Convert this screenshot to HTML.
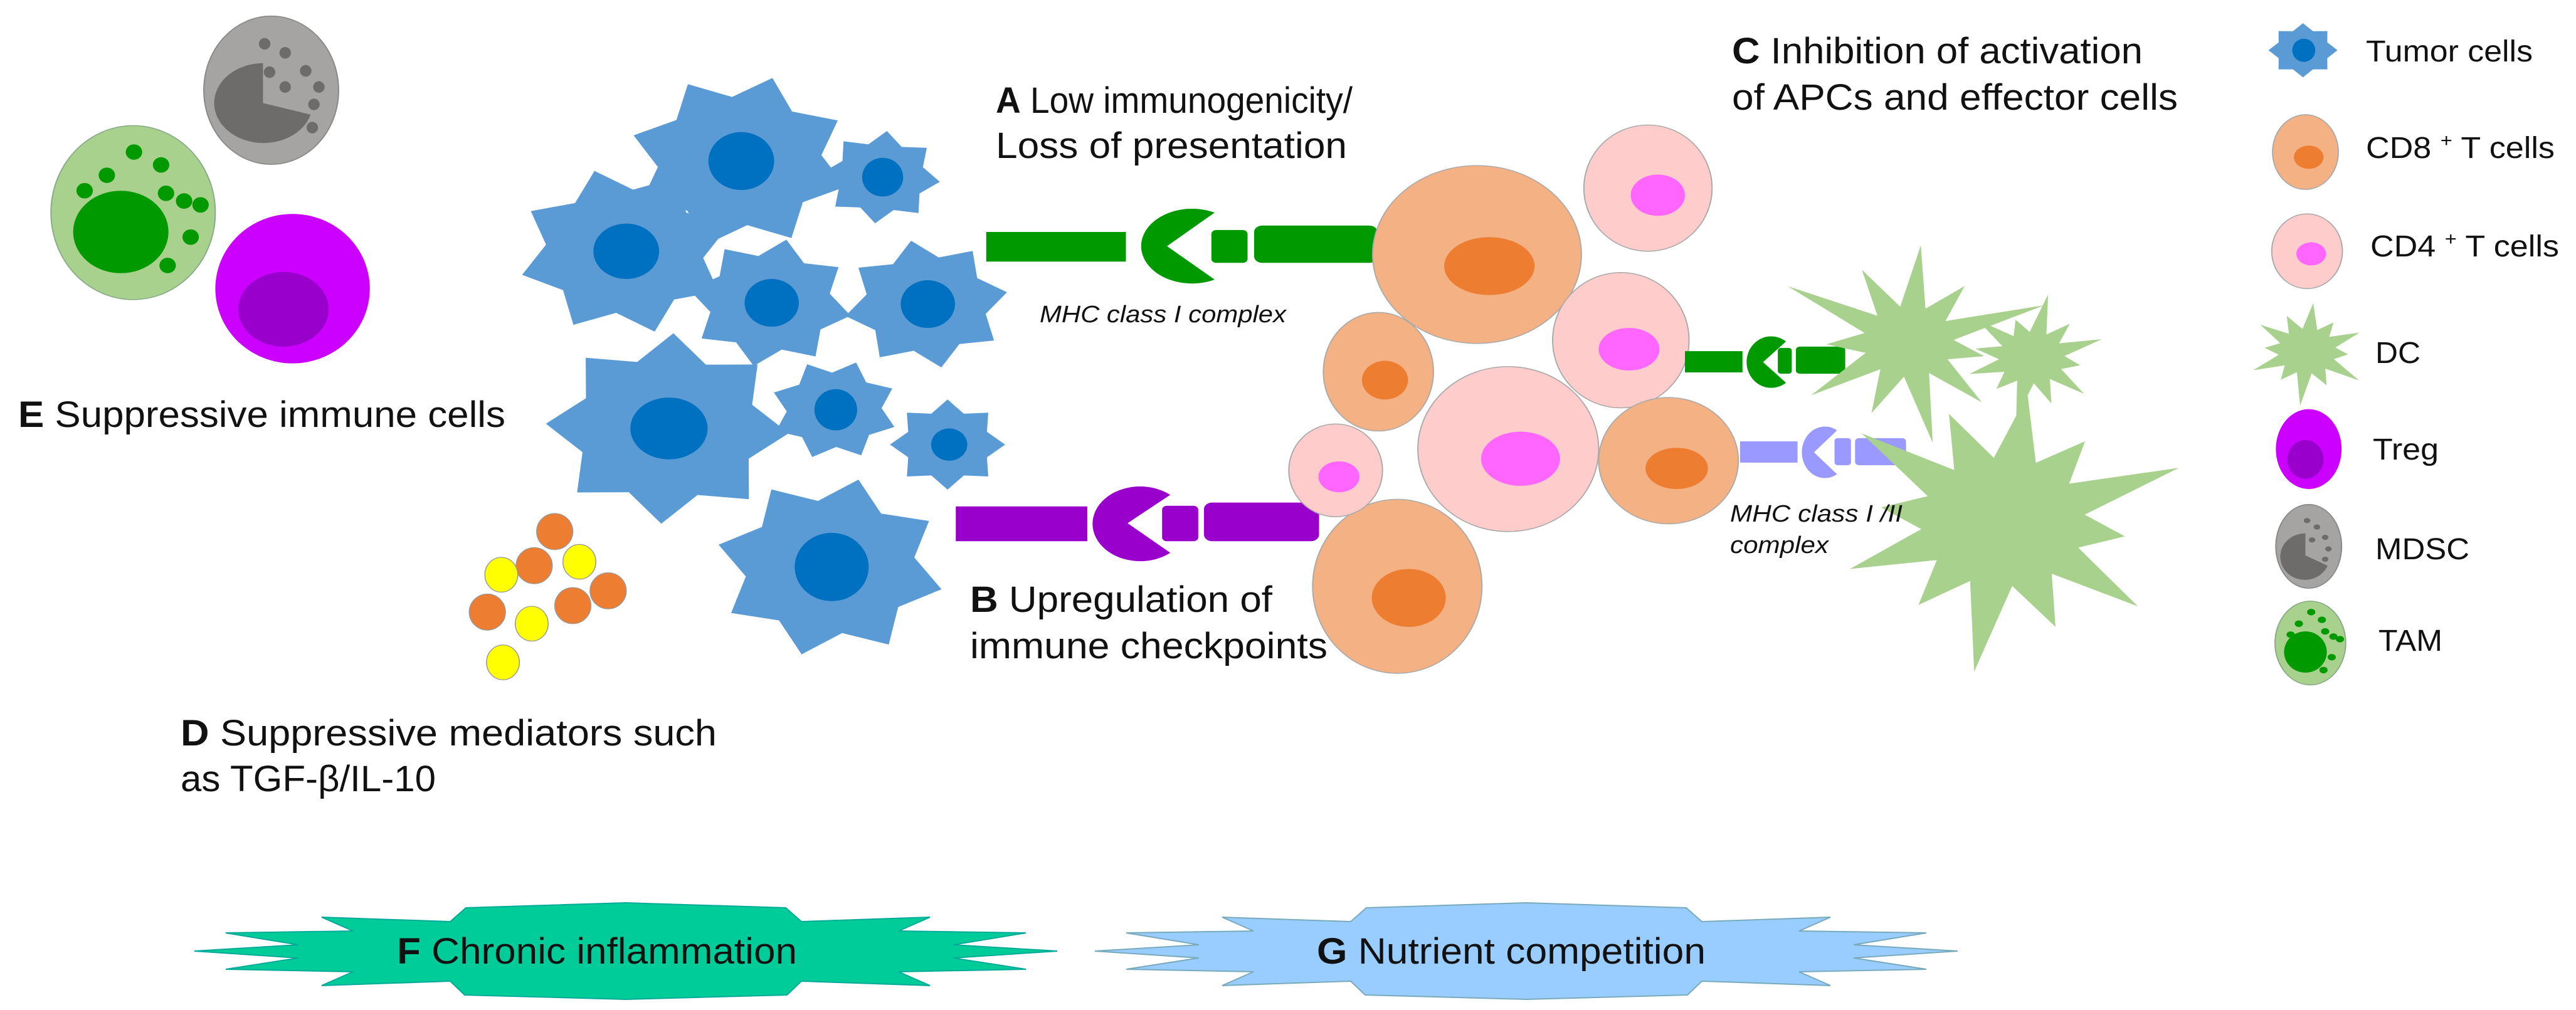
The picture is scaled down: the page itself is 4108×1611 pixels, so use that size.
<!DOCTYPE html>
<html><head><meta charset="utf-8"><style>
html,body{margin:0;padding:0;background:#fff}
svg{display:block}
text{font-family:"Liberation Sans",Arial,sans-serif;fill:#111}
</style></head><body>
<svg id="s" width="4108" height="1611" viewBox="0 0 4108 1611" xmlns="http://www.w3.org/2000/svg">
<rect width="4108" height="1611" fill="#fff"/>
<polygon id="bF" fill="#00cc99" stroke="#0a9" stroke-width="2"/>
<polygon id="bG" fill="#99ccff" stroke="#7ab" stroke-width="2"/>

<g id="L" transform="scale(1.3106,1.0277)">
  <ellipse cx="330" cy="140" rx="82" ry="115" fill="#a6a3a3" stroke="#888" stroke-width="1.5"/>
  <path d="M320 160 L320 98 A60 62 0 1 0 378 178 Z" fill="#6e6b6b"/>
  <g fill="#6e6b6b">
    <ellipse cx="322" cy="68" rx="7" ry="9"/><ellipse cx="347" cy="82" rx="7" ry="9"/>
    <ellipse cx="328" cy="112" rx="7" ry="9"/><ellipse cx="372" cy="110" rx="7" ry="9"/>
    <ellipse cx="347" cy="135" rx="7" ry="9"/><ellipse cx="388" cy="135" rx="7" ry="9"/>
    <ellipse cx="382" cy="162" rx="7" ry="9"/><ellipse cx="380" cy="198" rx="7" ry="9"/>
  </g>
  <ellipse cx="162" cy="330" rx="100" ry="135" fill="#a9d18e" stroke="#8a8" stroke-width="1.5"/>
  <ellipse cx="147" cy="360" rx="58" ry="64" fill="#009900"/>
  <g fill="#009900">
    <ellipse cx="163" cy="236" rx="10" ry="12"/><ellipse cx="196" cy="256" rx="10" ry="12"/>
    <ellipse cx="130" cy="272" rx="10" ry="12"/><ellipse cx="103" cy="296" rx="10" ry="12"/>
    <ellipse cx="202" cy="300" rx="10" ry="12"/><ellipse cx="224" cy="312" rx="10" ry="12"/>
    <ellipse cx="244" cy="318" rx="10" ry="12"/><ellipse cx="232" cy="368" rx="10" ry="12"/>
    <ellipse cx="204" cy="412" rx="10" ry="12"/>
  </g>
  <ellipse cx="356" cy="448" rx="94" ry="116" fill="#cc00ff"/>
  <ellipse cx="345" cy="480" rx="55" ry="58" fill="#9900cc"/>
  <g id="tum"></g>
  <g stroke="#999" stroke-width="1.2">
    <ellipse cx="675" cy="825" rx="22" ry="28" fill="#ed7d31"/>
    <ellipse cx="650" cy="878" rx="22" ry="28" fill="#ed7d31"/>
    <ellipse cx="740" cy="917" rx="22" ry="28" fill="#ed7d31"/>
    <ellipse cx="697" cy="940" rx="22" ry="28" fill="#ed7d31"/>
    <ellipse cx="593" cy="950" rx="22" ry="28" fill="#ed7d31"/>
    <ellipse cx="610" cy="892" rx="20" ry="27" fill="#ffff00"/>
    <ellipse cx="705" cy="872" rx="20" ry="27" fill="#ffff00"/>
    <ellipse cx="647" cy="968" rx="20" ry="27" fill="#ffff00"/>
    <ellipse cx="612" cy="1028" rx="20" ry="27" fill="#ffff00"/>
  </g>
  <g fill="#009900">
    <rect x="1200" y="360" width="170" height="46"/>
    <path d="M1420 382 L1478 330 A62 58 0 1 0 1478 434 Z"/>
    <rect x="1474" y="357" width="44" height="51" rx="6"/>
    <rect x="1526" y="350" width="150" height="58" rx="10"/>
  </g>
  <g fill="#9900cc">
    <rect x="1163" y="786" width="160" height="54"/>
    <path d="M1372 812 L1424 768 A58 58 0 1 0 1424 858 Z"/>
    <rect x="1414" y="785" width="44" height="55" rx="6"/>
    <rect x="1465" y="780" width="140" height="60" rx="10"/>
  </g>
</g>

<g id="R" transform="translate(2054,0) scale(1.3106,1.0277)">
  <g stroke="#aaa" stroke-width="1.5">
    <ellipse cx="230" cy="395" rx="127" ry="138" fill="#f4b183"/>
    <ellipse cx="245" cy="413" rx="55" ry="45" fill="#ed7d31" stroke="none"/>
    <ellipse cx="438" cy="292" rx="78" ry="98" fill="#ffcccc"/>
    <ellipse cx="450" cy="303" rx="33" ry="32" fill="#ff66ff" stroke="none"/>
    <ellipse cx="110" cy="577" rx="67" ry="92" fill="#f4b183"/>
    <ellipse cx="118" cy="590" rx="28" ry="30" fill="#ed7d31" stroke="none"/>
    <ellipse cx="405" cy="528" rx="83" ry="105" fill="#ffcccc"/>
    <ellipse cx="415" cy="542" rx="37" ry="33" fill="#ff66ff" stroke="none"/>
    <ellipse cx="268" cy="697" rx="110" ry="128" fill="#ffcccc"/>
    <ellipse cx="283" cy="712" rx="48" ry="42" fill="#ff66ff" stroke="none"/>
    <ellipse cx="463" cy="715" rx="85" ry="98" fill="#f4b183"/>
    <ellipse cx="473" cy="727" rx="38" ry="32" fill="#ed7d31" stroke="none"/>
    <ellipse cx="133" cy="910" rx="103" ry="135" fill="#f4b183"/>
    <ellipse cx="147" cy="928" rx="45" ry="45" fill="#ed7d31" stroke="none"/>
    <ellipse cx="58" cy="730" rx="57" ry="72" fill="#ffcccc"/>
    <ellipse cx="62" cy="740" rx="25" ry="24" fill="#ff66ff" stroke="none"/>
  </g>
  <g fill="#009900">
    <rect x="483" y="545" width="70" height="33"/>
    <path d="M578 562 L606 530 A30 40 0 1 0 606 594 Z"/>
    <rect x="596" y="540" width="17" height="40" rx="4"/>
    <rect x="618" y="538" width="60" height="42" rx="5"/>
  </g>
  <g fill="#9999ff">
    <rect x="550" y="685" width="70" height="33"/>
    <path d="M640 702 L668 668 A28 40 0 1 0 668 736 Z"/>
    <rect x="665" y="680" width="20" height="42" rx="4"/>
    <rect x="690" y="680" width="62" height="42" rx="5"/>
  </g>
  <g id="dcs" fill="#a9d18e"></g>
  <g id="legtum"></g>
  <ellipse cx="1238" cy="236" rx="40" ry="58" fill="#f4b183" stroke="#aaa" stroke-width="1.5"/>
  <ellipse cx="1242" cy="244" rx="18" ry="18" fill="#ed7d31"/>
  <ellipse cx="1240" cy="390" rx="43" ry="58" fill="#ffcccc" stroke="#aaa" stroke-width="1.5"/>
  <ellipse cx="1245" cy="394" rx="18" ry="18" fill="#ff66ff"/>
  <ellipse cx="1242" cy="697" rx="40" ry="62" fill="#cc00ff"/>
  <ellipse cx="1238" cy="713" rx="22" ry="30" fill="#9900cc"/>
  <ellipse cx="1242" cy="848" rx="40" ry="65" fill="#a6a3a3" stroke="#888" stroke-width="1.5"/>
  <path d="M1238 862 L1238 828 A30 36 0 1 0 1265 878 Z" fill="#6e6b6b"/>
  <g fill="#6e6b6b"><circle cx="1240" cy="808" r="4"/><circle cx="1252" cy="818" r="4"/><circle cx="1246" cy="838" r="4"/><circle cx="1262" cy="834" r="4"/><circle cx="1266" cy="852" r="4"/><circle cx="1262" cy="868" r="4"/></g>
  <ellipse cx="1244" cy="998" rx="43" ry="65" fill="#a9d18e" stroke="#8a8" stroke-width="1.5"/>
  <ellipse cx="1238" cy="1012" rx="26" ry="32" fill="#009900"/>
  <g fill="#009900"><circle cx="1245" cy="950" r="5"/><circle cx="1258" cy="962" r="5"/><circle cx="1230" cy="968" r="5"/><circle cx="1220" cy="985" r="5"/><circle cx="1262" cy="980" r="5"/><circle cx="1272" cy="988" r="5"/><circle cx="1280" cy="992" r="5"/><circle cx="1270" cy="1020" r="5"/><circle cx="1260" cy="1040" r="5"/></g>
</g>

<text x="29" y="681" font-size="58" textLength="777" lengthAdjust="spacingAndGlyphs"><tspan font-weight="bold">E</tspan> Suppressive immune cells</text>
<text x="288" y="1189" font-size="58" textLength="855" lengthAdjust="spacingAndGlyphs"><tspan font-weight="bold">D</tspan> Suppressive mediators  such</text>
<text x="288" y="1262" font-size="58" textLength="407" lengthAdjust="spacingAndGlyphs">as TGF-β/IL-10</text>
<text x="1588" y="180" font-size="58" textLength="569" lengthAdjust="spacingAndGlyphs"><tspan font-weight="bold">A</tspan> Low immunogenicity/</text>
<text x="1588" y="252" font-size="58" textLength="560" lengthAdjust="spacingAndGlyphs">Loss of presentation</text>
<text x="1658" y="514" font-size="38" font-style="italic" textLength="393" lengthAdjust="spacingAndGlyphs" fill="#333">MHC class I complex</text>
<text x="1547" y="976" font-size="58" textLength="482" lengthAdjust="spacingAndGlyphs"><tspan font-weight="bold">B</tspan> Upregulation of</text>
<text x="1547" y="1050" font-size="58" textLength="570" lengthAdjust="spacingAndGlyphs">immune checkpoints</text>
<text x="2762" y="101" font-size="58" textLength="655" lengthAdjust="spacingAndGlyphs"><tspan font-weight="bold">C</tspan> Inhibition of activation</text>
<text x="2762" y="175" font-size="58" textLength="711" lengthAdjust="spacingAndGlyphs">of APCs and effector cells</text>
<text x="2759" y="832" font-size="38" font-style="italic" textLength="275" lengthAdjust="spacingAndGlyphs" fill="#333">MHC class I /II</text>
<text x="2759" y="882" font-size="38" font-style="italic" textLength="157" lengthAdjust="spacingAndGlyphs" fill="#333">complex</text>
<text x="633" y="1537" font-size="58" textLength="638" lengthAdjust="spacingAndGlyphs"><tspan font-weight="bold">F</tspan> Chronic inflammation</text>
<text x="2100" y="1537" font-size="58" textLength="620" lengthAdjust="spacingAndGlyphs"><tspan font-weight="bold">G</tspan> Nutrient competition</text>
<g font-size="48">
<text x="3773" y="98" textLength="266" lengthAdjust="spacingAndGlyphs">Tumor cells</text>
<text x="3773" y="252" textLength="301" lengthAdjust="spacingAndGlyphs">CD8 <tspan font-size="30" dy="-18">+</tspan><tspan dy="18"> T cells</tspan></text>
<text x="3780" y="409" textLength="301" lengthAdjust="spacingAndGlyphs">CD4 <tspan font-size="30" dy="-18">+</tspan><tspan dy="18"> T cells</tspan></text>
<text x="3788" y="579" textLength="72" lengthAdjust="spacingAndGlyphs">DC</text>
<text x="3784" y="733" textLength="105" lengthAdjust="spacingAndGlyphs">Treg</text>
<text x="3788" y="892" textLength="150" lengthAdjust="spacingAndGlyphs">MDSC</text>
<text x="3793" y="1038" textLength="102" lengthAdjust="spacingAndGlyphs">TAM</text>
</g>
</svg>
<script>
(function(){
var NS="http://www.w3.org/2000/svg";
function star(cx,cy,n,R,r,rot,rads){var p=[];for(var i=0;i<2*n;i++){var a=rot+Math.PI*i/n;var rr=(i%2==0)?(rads?rads[(i/2)%rads.length]:R):r;p.push((cx+rr*Math.sin(a)).toFixed(1)+","+(cy-rr*Math.cos(a)).toFixed(1));}return p.join(" ");}
function poly(parent,pts,fill){var e=document.createElementNS(NS,"polygon");e.setAttribute("points",pts);e.setAttribute("fill",fill);parent.appendChild(e);return e;}
function ell(parent,cx,cy,rx,ry,fill){var e=document.createElementNS(NS,"ellipse");e.setAttribute("cx",cx);e.setAttribute("cy",cy);e.setAttribute("rx",rx);e.setAttribute("ry",ry);e.setAttribute("fill",fill);parent.appendChild(e);}
var t=document.getElementById("tum");
var T=[[900,250,135,0.3,40,45],[1072,275,72,0.1,25,30],[760,390,130,0.5,40,43],[937,470,100,0.2,33,37],[1127,472,100,0.6,33,37],[812,665,148,0.05,47,48],[1015,636,78,0.35,26,32],[1153,690,70,0.0,22,25],[1010,880,140,0.25,45,53]];
T.forEach(function(s){poly(t,star(s[0],s[1],8,s[2],s[2]*0.74,s[3]),"#5b9bd5");ell(t,s[0]+2,s[1],s[4],s[5],"#0070c0");});
var lt=document.getElementById("legtum");poly(lt,star(1235,78,8,42,32,0),"#5b9bd5");ell(lt,1236,78,14,18,"#0070c0");
var d=document.getElementById("dcs");
poly(d,star(755,530,11,0,55,0.1,[150,110,175,95,130,160,120,145,100,170,125]),"#a9d18e");
poly(d,star(905,555,12,0,40,0.2,[100,70,90,60,85,75,95,65,80,70,88,62]),"#a9d18e");
poly(d,star(870,810,12,0,100,0.15,[200,160,230,150,210,175,235,165,200,150,220,180]),"#a9d18e");
poly(d,star(1240,545,12,0,35,0.1,[75,55,70,50,78,58,85,55,72,52,70,60]),"#a9d18e");
function banner(dx){var pts=[[1253,1448],[1278,1470],[1483,1463],[1433,1485],[1636,1488],[1520,1507],[1686,1517],[1520,1528],[1636,1546],[1433,1550],[1483,1572],[1278,1565],[1255,1587]];
var out=[];pts.forEach(function(p){out.push([p[0],p[1]]);});
out.push([998,1594]);
for(var i=pts.length-1;i>=0;i--){out.push([1996-pts[i][0],pts[i][1]]);}
out.push([998,1440]);
return out.map(function(p){return (p[0]+dx)+","+p[1];}).join(" ");}
document.getElementById("bF").setAttribute("points",banner(0));
document.getElementById("bG").setAttribute("points",banner(1436));
})();
</script>
</body></html>
